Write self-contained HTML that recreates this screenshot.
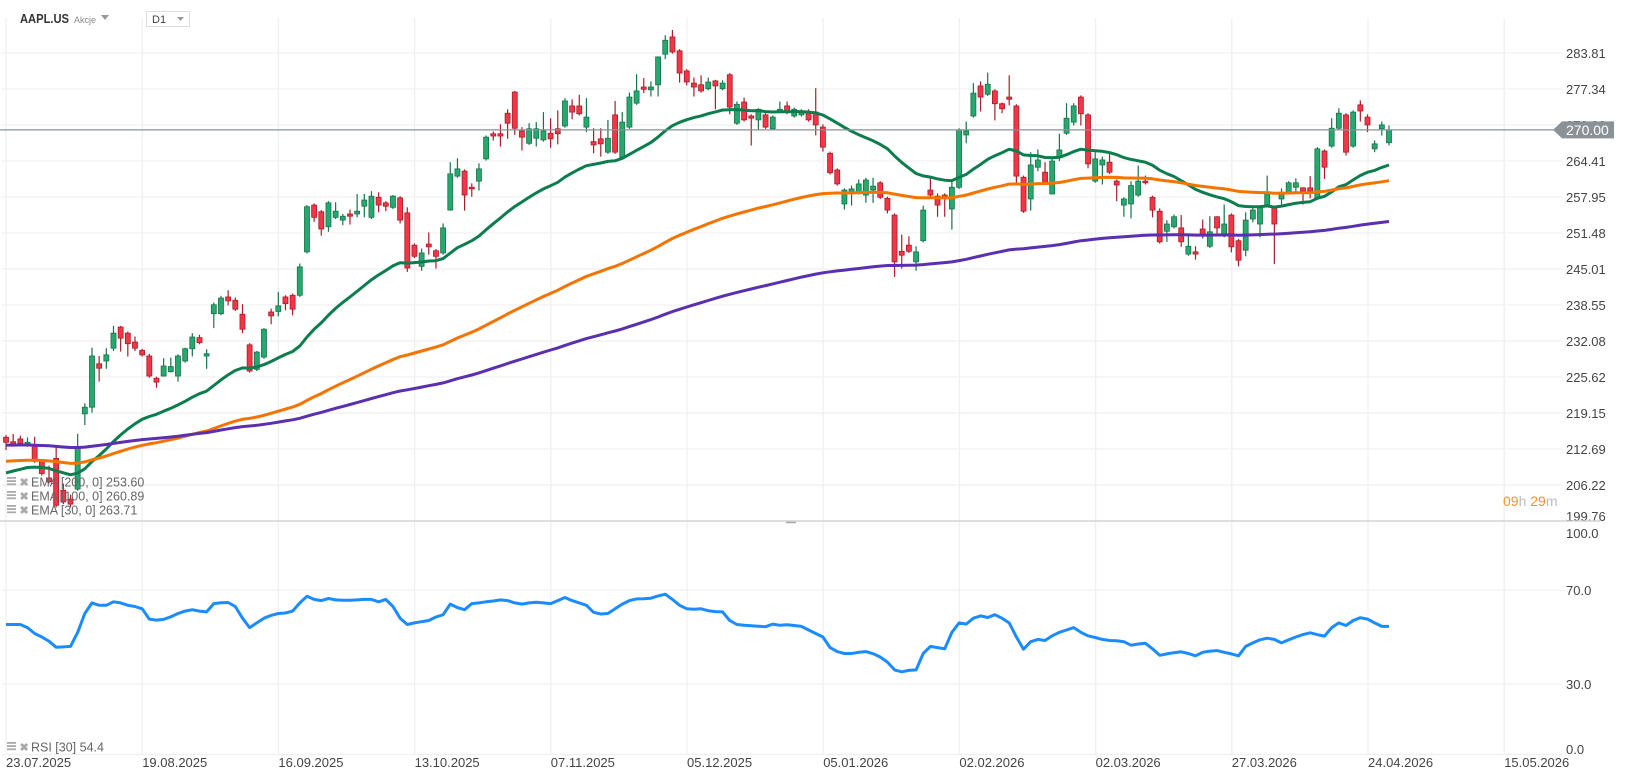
<!DOCTYPE html>
<html><head><meta charset="utf-8"><style>
html,body{margin:0;padding:0;background:#fff;}
svg{display:block;font-family:"Liberation Sans",sans-serif;}
</style></head><body>
<svg id="chart" width="1626" height="779" viewBox="0 0 1626 779" xmlns="http://www.w3.org/2000/svg">
<g id="grid"></g>
<g id="priceAxis"></g>
<g id="rsiAxis"></g>
<g id="dateAxis"></g>
<defs><clipPath id="mainClip"><rect x="0" y="30" width="1556" height="491"/></clipPath></defs>
<g id="candles" clip-path="url(#mainClip)"></g>
<g id="emas" clip-path="url(#mainClip)"></g>
<line x1="0" y1="521" x2="1600" y2="521" stroke="#d4d4d4" stroke-width="1.5"/>
<line x1="786" y1="522.5" x2="796" y2="522.5" stroke="#aaa" stroke-width="1.5"/>
<g id="rsi"></g>
<g>
<text x="20" y="23" font-size="13" font-weight="bold" fill="#333" textLength="49" lengthAdjust="spacingAndGlyphs">AAPL.US</text>
<text x="74" y="23" font-size="9" fill="#888">Akcje</text>
<polygon points="101,15 109,15 105,20" fill="#999"/>
<rect x="146.5" y="11.5" width="43" height="15" fill="#fff" stroke="#ddd"/>
<text x="152" y="23" font-size="11" fill="#444">D1</text>
<polygon points="177,17 184,17 180.5,21" fill="#999"/>
</g>
<text x="1503" y="506" font-size="14"><tspan fill="#f7931e">09</tspan><tspan fill="#bbb">h </tspan><tspan fill="#f7931e">29</tspan><tspan fill="#bbb">m</tspan></text>
</svg>
<script>
const opens=[214.8,214,214.5,213.3,213.5,210.5,207.5,211,205.3,203.7,205.5,219,220.2,228,228.5,230.8,234.6,233.5,231.9,230.4,229.4,225.4,225.8,226.6,225.8,228.5,230.7,232.7,229.4,237,237,240,239.4,236.9,231.4,227,229.2,237.3,237.4,240,240.3,240.3,
248.1,256.5,255.3,252.6,254.3,253.8,254.9,254.9,256.3,254.3,257.9,256.9,256.1,257.8,255.1,249.3,245.5,249.5,248.3,247.9,255.6,261.7,262.6,259.7,260.8,264.8,269.3,269.3,273,276.8,269.8,267.6,268.5,268.2,269.4,270.2,270.7,274.3,274.3,
270.5,267.9,268.4,266,272.7,265.1,270.5,274.8,277.7,277.2,278.1,283.6,286.7,284.2,280.6,278.4,278.1,277.4,278.8,277.4,279.9,271.2,275,272.5,271.8,272.7,270.2,273.4,274.3,272.5,272.7,273.2,273.2,270.5,265.8,262.8,256.7,258.7,258.7,
258.3,259.2,260.5,257.7,254.7,248.2,249.3,246.3,250.1,259.2,258.1,258.3,255.8,259.7,269.1,272.5,277.9,276.4,277,274.7,275.9,274.3,261.5,257.6,263.3,262.4,258.5,265.1,269.4,271.4,275.9,272.7,260.8,263.7,264.2,260.8,256.5,256.7,258.3,
260.8,257.9,255.4,251.8,252.6,252.4,247.7,248.1,252.2,249.1,254.4,251,254.7,250.1,248.4,254,253.1,256.5,256,257.6,258.7,259.7,259.6,259.6,257.8,266.2,267.1,270.3,272.7,267.1,274.5,272.3,266.6,270.2,267.7];
const highs=[215.2,215.4,215.1,214.8,214.9,210.9,209.7,213,206.5,204.5,215.4,220.9,230.9,229.4,230.8,234.8,234.8,233.8,232.9,230.7,229.8,225.7,229,229.1,229.7,230.9,233.5,233.2,230.6,239,240.2,241.2,239.9,238.7,231.7,230.3,234.4,237.9,240.9,240.3,240.6,246,
256.5,256.8,255.6,257.2,257,254.9,255.7,258.5,258.5,259,258.8,257.2,258.3,258.1,256.1,249.6,248.7,251.6,248.6,253.2,264.2,264.9,262.9,260.4,264,269,269.7,271,273.7,277,270.5,271.2,271.4,273.2,272.1,273.5,275.7,275.5,276.3,
275.7,270.3,270.3,271.8,275.2,273.2,276.7,280,279.3,278.7,283.2,287,288.2,284.5,280.9,279.4,279.8,279.4,279,278.9,280.2,275.1,275.8,272.8,273.9,273,272.6,275.1,275.1,274,273.7,273.7,277.5,271,266.1,263.1,259.5,260,261.1,
261.4,261.4,260.8,258,255,251.2,250.9,249.1,256.4,261.3,258.6,258.6,261,270.3,271.5,278.4,278.7,280.3,277.3,274.9,279.8,274.6,261.8,266,266.5,264.2,265.2,269.3,274.8,274.8,276.2,273,266,265.2,265.8,261.1,257.9,260.8,263.6,
261.8,258.2,255.9,253.8,254.8,254.7,251.4,249.1,253.9,254.5,254.5,256.6,255,250.4,255.2,256.1,256.5,261.8,256.3,259.5,260.8,261.3,259.7,261.7,266.9,266.5,272.1,273.9,273,273.5,275.3,272.8,268.1,271.5,270.8];
const lows=[212.5,213.4,213.4,213.1,210.2,207.9,206.5,202.2,202.8,202.3,205.2,217,219.2,224.8,227.1,230.3,230.2,229.3,230.3,229.3,225.5,223.7,225.7,226.4,224.8,228.2,229.3,231.5,227.1,234.4,236.7,238.5,237.5,233.5,226.4,226.7,228.9,235.1,236.5,237.6,236.7,240,
247.8,253.5,251,251.7,254,252.9,253,254.3,254.3,254,255.2,255.4,255.8,253.2,244.5,247,244.7,247.6,245.1,247.6,255.5,261.4,255.5,258,259.1,264.5,268.1,267,268.4,269.1,266.3,267.3,267,267.9,266.8,267.4,270.4,271.9,272.6,
269.6,265.8,265.2,265.7,265.7,264.8,270.2,274.5,276.6,276,276,282.7,283.7,278.5,278,276,276.7,277.1,273.7,277.1,272.8,270.9,271.5,267.2,269.9,270.2,269.9,273.1,272.8,272.2,272.4,271.5,269,266.1,262,260,255.7,256.4,258.4,
256.9,256.9,257.6,255,243.6,245.1,247.9,244.7,249.8,258,254.4,254.4,252.1,259.4,267.6,272.2,273.3,276.1,271.7,273,274.4,260.4,255.1,255.5,262.6,260.2,258.4,264.4,269.1,270.8,270.8,263.1,260.5,260.2,262.1,257.2,254.4,254.1,258,
260.2,254.3,249.6,249.9,252.3,249,247.4,246.7,250.5,248.8,251.4,250.7,248,245.5,247.3,253.4,250.7,256.2,245.9,256.5,258.4,258.6,256.6,257.7,257.5,261.2,266.8,270,265.4,266.8,271.5,269.6,266,269,267.2];
const closes=[213.9,213.6,213.7,213.9,210.5,208.3,206.8,202.6,203.2,202.8,213,220.2,229.4,227.2,229.6,233.5,232.6,231.6,230.8,229.6,225.8,224.7,227.6,227.5,229.4,230.7,232.8,231.8,229.8,238.6,239.8,239.3,237.8,234.2,226.7,230.1,234.2,236.6,238.4,238.8,237.8,245.4,
256.2,254.3,252.2,256.9,255.4,254.5,254.5,255.4,257.4,258.1,256.5,256.3,258.1,253.8,245.2,247.3,247.9,249,247.3,252.4,262.1,263,258.3,259.4,263,268.7,268.9,268.9,271.2,270.3,268.7,270.2,270.2,269.8,268.4,269.3,275.2,273.2,272.9,
272.3,267.3,267.5,268.5,266,271.4,275.9,277,277.3,277.7,283.1,286.1,284,280.2,278.6,277.7,277,278.6,277.9,278.4,274.1,274.6,271.8,272.1,273.7,270.5,272.3,273.7,273.4,273.7,273.4,271.8,270.9,266.9,262.3,260.3,259.2,259.4,260.3,
261,259.9,257.9,255.6,246.3,247.5,248.2,248.1,255.6,258.3,256.5,257.7,259.7,270,269.8,276.6,275.9,278.2,274.7,273.8,275.5,261.7,255.4,263.7,264.6,260.5,264.4,266.4,272.1,274.3,272.9,263.9,264.8,264.6,262.4,260.1,257.6,260,260.8,
260.5,255.6,249.9,253.1,254.4,249.9,249.1,247.7,251.3,251.7,252.4,253.1,249,246.6,253.8,255.6,256.2,258.5,253.1,258.8,260.5,260.5,259,259,266.6,263.3,270.3,273,266,273.2,273.4,270.9,267.5,270.9,270];
const rsiValues=[55.3,55.3,55.3,54,51.5,50,48.2,45.6,45.8,46,52,60,64.5,63.5,63.5,65,64.5,63.5,63,62,57.6,57.2,57.5,58.6,60,61,61.6,61,60.7,64.2,64.6,64.7,63,58,54,56,58,59.2,60,60.2,
61,64.5,67.3,66,65.5,66.4,65.8,65.6,65.6,65.8,66,66,65,66,63,58,55.3,56,56.5,57,58.5,59.5,64,62.5,61.6,64.2,64.5,65,65.3,65.8,65.5,64.5,64,64.5,64.8,64.5,64.2,65.5,66.8,65.5,
64.5,63.5,60.5,59.8,60,62,64,65.5,66.2,66.3,66.5,67.5,68.2,66,63.5,62,61.8,62,61.2,60.8,60.7,57,55.3,55,54.8,54.6,54.4,55.5,55,55.2,54.9,54.5,53,51.5,50,45.5,43.8,43,43,43.5,
43.8,42.9,41.5,39.3,36,35.2,35.8,36,43,46,45.5,45,52,56,55.5,58,59,58.3,59.5,58,56,50,44.8,48,49,48.5,50.5,52,53,54,52,50.5,49.8,49,48.5,48.4,48,46.5,47,47.3,
45,42.2,42.8,43.3,43.7,43,42,43.5,44,44.2,43.5,42.8,42,46,47.5,48.8,49.5,49,47.5,48.8,50,51,51.8,51,50.4,54,56,54.9,57,58.2,57.6,56,54.5,54.5];
const priceTicks=[283.81,277.34,270.88,264.41,257.95,251.48,245.01,238.55,232.08,225.62,219.15,212.69,206.22,199.76];
const rsiTicks=[100,70,30,0];
const dateLabels=["23.07.2025","19.08.2025","16.09.2025","13.10.2025","07.11.2025","05.12.2025","05.01.2026","02.02.2026","02.03.2026","27.03.2026","24.04.2026","15.05.2026"];
const emaSeeds=[208.4,210.5,213.4];
const emaPeriods=[30,100,200];
const emaLegend=["EMA [200, 0] 253.60","EMA [100, 0] 260.89","EMA [30, 0] 263.71"];
const lastPrice=270.00;

const NS="http://www.w3.org/2000/svg";
function mk(tag,attrs,parent){const e=document.createElementNS(NS,tag);for(const k in attrs)e.setAttribute(k,attrs[k]);parent.appendChild(e);return e;}
const N=closes.length;
const xC=i=>6+i*(1383/(N-1));
const yP=p=>53+(283.81-p)*5.5684;
const yR=v=>754.5-v*2.35;
const xD=k=>6+k*136.2;

const grid=document.getElementById('grid');
const pa=document.getElementById('priceAxis');
priceTicks.forEach(t=>{
  const y=yP(t);
  const l=mk('line',{x1:2,x2:1562,y1:y,y2:y,stroke:'#f0f0f0','stroke-width':1.3},grid);
  
  
  const tx=mk('text',{x:1566,y:Math.min(y,516)+5,'font-size':13,fill:'#444'},pa);
  
  
  tx.textContent=t.toFixed(2);
});
const ra=document.getElementById('rsiAxis');
rsiTicks.forEach(t=>{
  const y=yR(t);
  if(t<100){const l=mk('line',{x1:2,x2:1562,y1:y,y2:y,stroke:'#f0f0f0','stroke-width':1.3},grid);
  
  }
  const tx=mk('text',{x:1566,y:Math.max(Math.min(y,749),533)+5,'font-size':13,fill:'#444'},ra);
  
  
  tx.textContent=t.toFixed(1);
});
const da=document.getElementById('dateAxis');
dateLabels.forEach((d,k)=>{
  const x=xD(k);
  const l=mk('line',{x1:x,x2:x,y1:18,y2:755,stroke:'#f0f0f0','stroke-width':1.3},grid);
  
  
  const tx=mk('text',{x:x,y:767,'font-size':13,fill:'#444'},da);
  
  
  tx.textContent=d;
});

const cg=document.getElementById('candles');
for(let i=0;i<N;i++){
  const up=closes[i]>=opens[i];
  const x=xC(i);
  const g=mk('g',{},cg);
  
  
  const wc=up?'#17734a':'#a81d2b';
  mk('line',{x1:x,x2:x,y1:yP(highs[i]),y2:yP(lows[i]),stroke:wc,'stroke-width':1.2},g);
  const top=yP(Math.max(opens[i],closes[i])),bot=yP(Math.min(opens[i],closes[i]));
  mk('rect',{x:x-2.5,y:top,width:5,height:Math.max(bot-top,1.2),fill:up?'#26a86f':'#f23645',stroke:wc,'stroke-width':0.8},g);
}

const eg=document.getElementById('emas');
const emaColors=['#0b7d4f','#f57400','#5a2fb0'];
const emaNames=['ema-30-line','ema-100-line','ema-200-line'];
emaPeriods.forEach((p,k)=>{
  const a=2/(p+1);let e=emaSeeds[k];let d='';
  for(let i=0;i<N;i++){ if(i>0) e=e+a*(closes[i]-e); d+=(i?'L':'M')+xC(i).toFixed(1)+','+yP(e).toFixed(1); }
  const path=mk('path',{d:d,fill:'none',stroke:emaColors[k],'stroke-width':3,'stroke-linejoin':'round'},eg);
  
  
});

const svg=document.getElementById('chart');
const yl=yP(lastPrice);
const pl=mk('line',{x1:0,x2:1556,y1:yl,y2:yl,stroke:'#8a9094','stroke-width':1.3},svg);


const pb=mk('polygon',{points:`1553,${yl} 1562,${yl-8.5} 1614,${yl-8.5} 1614,${yl+8.5} 1562,${yl+8.5}`,fill:'#8a9297'},svg);


const pt=mk('text',{x:1566,y:yl+5,'font-size':14,fill:'#fff'},svg);


pt.textContent=lastPrice.toFixed(2);

const rg=document.getElementById('rsi');
let rd='';rsiValues.forEach((v,i)=>{rd+=(i?'L':'M')+xC(i).toFixed(1)+','+yR(v).toFixed(1);});
const rp=mk('path',{d:rd,fill:'none',stroke:'#1a8cff','stroke-width':3,'stroke-linejoin':'round'},rg);



function legendRow(y,txt,name){
  const g=mk('g',{},svg);
  
  
  for(let j=0;j<3;j++) mk('rect',{x:7,y:y-5+j*3.2,width:9,height:1.8,fill:'#aaa'},g);
  const xm=mk('text',{x:19.5,y:y+4,'font-size':11,fill:'#aaa','font-weight':'bold'},g);
  xm.textContent='✖';
  const t=mk('text',{x:31,y:y+4.5,'font-size':12.5,fill:'#666'},g);
  t.textContent=txt;
}
emaLegend.forEach((t,k)=>legendRow(482+k*14,t,'ema-legend-entry'));
legendRow(747,'RSI [30] 54.4','rsi-legend-entry');
</script>
</body></html>
